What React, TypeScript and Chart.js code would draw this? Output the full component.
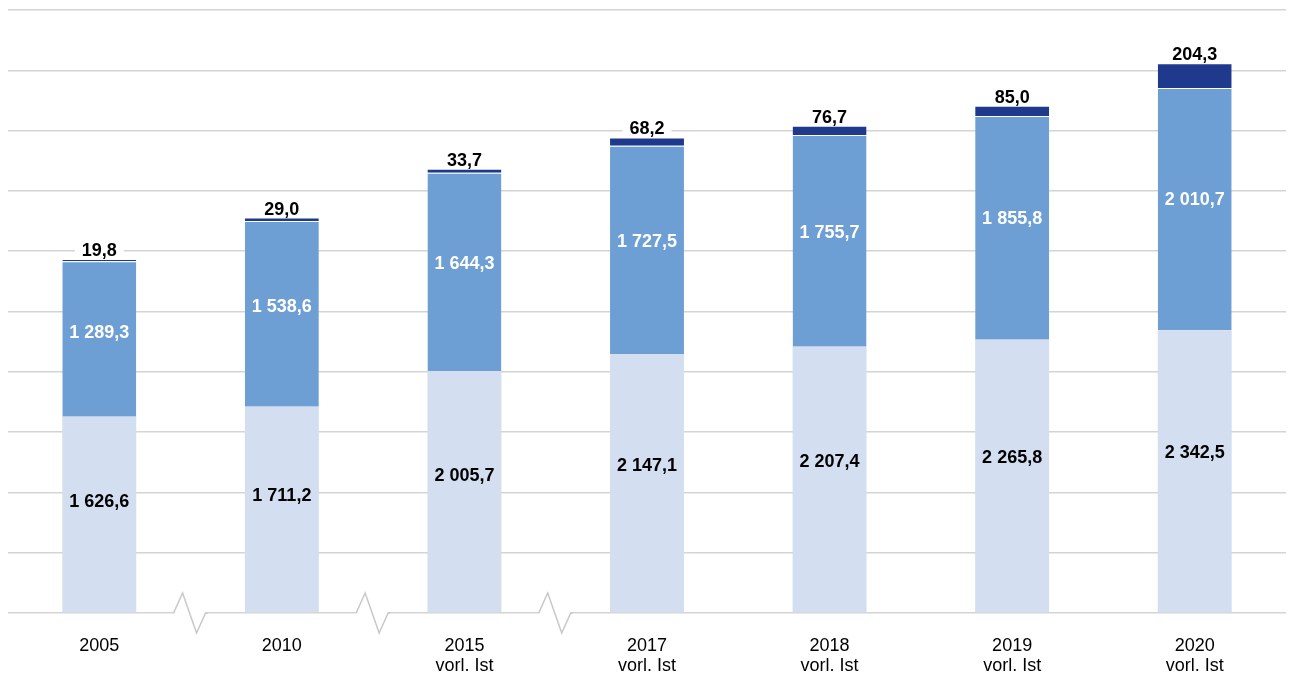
import React, { useEffect, useRef } from "react";
import { Chart, registerables } from "chart.js";

Chart.register(...registerables);

const categories: string[][] = [
  ["2005"],
  ["2010"],
  ["2015", "vorl. Ist"],
  ["2017", "vorl. Ist"],
  ["2018", "vorl. Ist"],
  ["2019", "vorl. Ist"],
  ["2020", "vorl. Ist"],
];
const bottomValues = [1626.6, 1711.2, 2005.7, 2147.1, 2207.4, 2265.8, 2342.5];
const middleValues = [1289.3, 1538.6, 1644.3, 1727.5, 1755.7, 1855.8, 2010.7];
const topValues = [19.8, 29.0, 33.7, 68.2, 76.7, 85.0, 204.3];
const breakAfterIndex = [0, 1, 2];

const FONT = "'Liberation Sans', Arial, sans-serif";

function fmt(v: number): string {
  const [i, d] = v.toFixed(1).split(".");
  const withSep = i.replace(/\B(?=(\d{3})+(?!\d))/g, " ");
  return withSep + "," + d;
}

const labelsPlugin = {
  id: "segLabels",
  afterDatasetsDraw(chart: any) {
    const ctx = chart.ctx;
    ctx.save();
    ctx.font = `bold 18px ${FONT}`;
    ctx.textAlign = "center";
    chart.data.datasets.forEach((ds: any, di: number) => {
      const meta = chart.getDatasetMeta(di);
      meta.data.forEach((el: any, i: number) => {
        const txt = fmt(ds.data[i]);
        if (di < 2) {
          const frac = di === 0 ? 0.43 : 0.457;
          ctx.textBaseline = "middle";
          ctx.fillStyle = di === 0 ? "#000" : "#fff";
          ctx.fillText(txt, el.x, el.y + (el.base - el.y) * frac + 1);
        } else {
          const w = ctx.measureText(txt).width;
          ctx.fillStyle = "#fff";
          ctx.fillRect(el.x - w / 2 - 7, el.y - 19, w + 14, 17);
          ctx.fillStyle = "#000";
          ctx.textBaseline = "alphabetic";
          ctx.fillText(txt, el.x, el.y - 3);
        }
      });
    });
    ctx.restore();
  },
};

const breakPlugin = {
  id: "axisBreaks",
  afterDraw(chart: any) {
    const ctx = chart.ctx;
    const x = chart.scales.x;
    const yb = chart.scales.y.getPixelForValue(0);
    ctx.save();
    breakAfterIndex.forEach((i) => {
      const m = (x.getPixelForValue(i) + x.getPixelForValue(i + 1)) / 2;
      ctx.fillStyle = "#fff";
      ctx.fillRect(m - 16, yb - 2, 31, 4);
      ctx.strokeStyle = "#c8c8c8";
      ctx.lineWidth = 1.5;
      ctx.beginPath();
      ctx.moveTo(m - 17, yb);
      ctx.lineTo(m - 8, yb - 20);
      ctx.lineTo(m + 6, yb + 20);
      ctx.lineTo(m + 15, yb);
      ctx.lineTo(m + 17, yb);
      ctx.stroke();
    });
    ctx.restore();
  },
};

export default function App() {
  const ref = useRef<HTMLCanvasElement>(null);
  useEffect(() => {
    if (!ref.current) return;
    const border = { top: 1, left: 0, right: 0, bottom: 0 };
    const chart = new Chart(ref.current, {
      type: "bar",
      data: {
        labels: categories,
        datasets: [
          { data: bottomValues, backgroundColor: "#d3def0", borderColor: "#fff", borderWidth: 0 },
          { data: middleValues, backgroundColor: "#6d9ed4", borderColor: "#fff", borderWidth: border },
          { data: topValues, backgroundColor: "#1f3a8c", borderColor: "#fff", borderWidth: border },
        ],
      } as any,
      options: {
        animation: false,
        responsive: false,
        maintainAspectRatio: false,
        layout: { padding: { left: 8, right: 6, top: 10, bottom: 0 } },
        datasets: { bar: { barPercentage: 0.405, categoryPercentage: 1 } },
        plugins: { legend: { display: false }, tooltip: { enabled: false } },
        scales: {
          x: {
            stacked: true,
            grid: { display: false },
            border: { display: false },
            ticks: { color: "#000", font: { family: FONT, size: 18, lineHeight: 1.12 }, padding: 15, maxRotation: 0 },
            afterFit: (a: any) => { a.height = 65; },
          },
          y: {
            stacked: true,
            min: 0,
            max: 5000,
            ticks: { display: false, stepSize: 500 },
            grid: { color: "#d4d4d4", lineWidth: 1.5, drawTicks: false },
            border: { display: false },
            afterFit: (a: any) => { a.width = 0; },
          },
        },
      } as any,
      plugins: [labelsPlugin, breakPlugin],
    });
    return () => chart.destroy();
  }, []);
  return (
    <div style={{ position: "fixed", left: 0, top: 0, width: 1292, height: 678, background: "#fff" }}>
      <canvas ref={ref} width={1292} height={678} style={{ display: "block" }} />
    </div>
  );
}
